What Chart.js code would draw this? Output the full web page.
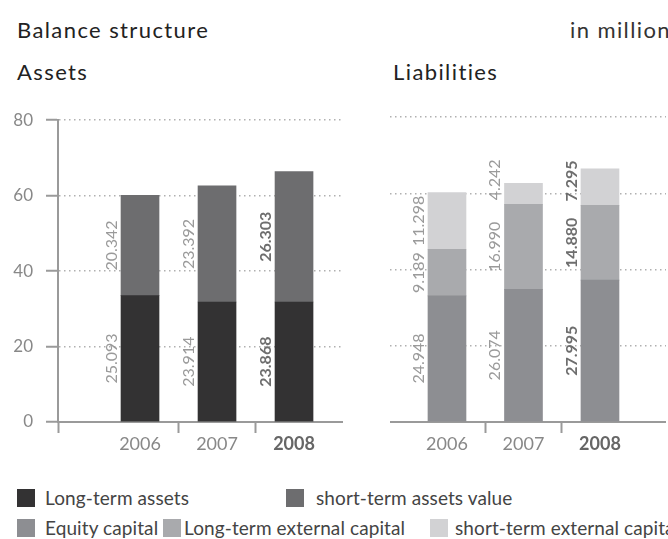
<!DOCTYPE html>
<html>
<head>
<meta charset="utf-8">
<script src="https://cdn.jsdelivr.net/npm/chart.js@4.4.1/dist/chart.umd.min.js"></script>
<style>
body { margin: 0; width: 668px; height: 539px; overflow: hidden; background: #fff; position: relative; font-family: Lato, sans-serif; }
.t { position: absolute; white-space: nowrap; line-height: 1; color: #222; }
.h { font-size: 22px; letter-spacing: 1.4px; }
.lg { font-size: 19px; color: #444; letter-spacing: 0.1px; }
.sq { position: absolute; width: 18px; height: 18px; }
canvas { position: absolute; }
</style>
</head>
<body>
<div class="t h" style="left:17px;top:19px">Balance structure</div>
<div class="t h" style="left:570px;top:19px;color:#333">in million</div>
<div class="t h" style="left:17px;top:61px">Assets</div>
<div class="t h" style="left:393px;top:61px">Liabilities</div>

<canvas id="assetsChart" width="343" height="363" style="left:0;top:97px"></canvas>
<canvas id="liabChart" width="276" height="363" style="left:390px;top:97px"></canvas>

<div id="legend"></div>

<script>
const years = ['2006', '2007', '2008'];
const yTicks = [0, 20, 40, 60, 80];

// bar heights as drawn
const longTermAssets = [33.5, 31.8, 31.8];
const shortTermAssets = [26.6, 30.8, 34.6];
const equityCapital = [33.1, 34.8, 37.2];
const longTermExternal = [12.2, 22.3, 19.6];
const shortTermExternal = [14.9, 5.5, 9.6];

// numbers printed next to the bars
const longTermAssetsText = ['25.093', '23.914', '23.868'];
const shortTermAssetsText = ['20.342', '23.392', '26.303'];
const equityText = ['24.948', '26.074', '27.995'];
const longTermExternalText = ['9.189', '16.990', '14.880'];
const shortTermExternalText = ['11.298', '4.242', '7.295'];

const colors = {
    longTermAssets: '#333233',
    shortTermAssets: '#6d6d6f',
    equity: '#8d8e92',
    longTermExt: '#a9aaad',
    shortTermExt: '#d2d2d4'
};

Chart.defaults.font.family = 'Lato, sans-serif';

const barText = {
    id: 'barText',
    afterDatasetsDraw(chart) {
        const ctx = chart.ctx;
        chart.data.datasets.forEach((ds, di) => {
            const meta = chart.getDatasetMeta(di);
            meta.data.forEach((bar, i) => {
                const txt = ds.valueText[i];
                const bold = i === years.length - 1;
                ctx.save();
                ctx.font = (bold ? 'bold ' : '') + '16px Lato';
                const w = ctx.measureText(txt).width;
                const top = Math.min(bar.y, bar.base);
                const bottom = Math.max(bar.y, bar.base);
                let cy = (top + bottom) / 2;
                // short segments: let the number run up past the bar top
                if (w + 4 > bottom - top) cy = bottom - 4 - w / 2;
                ctx.translate(bar.x - bar.width / 2 - 4, cy);
                ctx.rotate(-Math.PI / 2);
                ctx.textAlign = 'center';
                ctx.textBaseline = 'alphabetic';
                ctx.fillStyle = bold ? '#6e6e6e' : '#9a9a9a';
                ctx.fillText(txt, 0, 0);
                ctx.restore();
            });
        });
    }
};

function toPoints(vals) {
    return vals.map((v, i) => ({ x: i + 1, y: v }));
}

function makeChart(id, datasets, xMin, xMax, showY) {
    const xTickVals = [1, 1.5, 2, 2.5, 3];
    if (showY) xTickVals.unshift(xMin);
    return new Chart(document.getElementById(id), {
        type: 'bar',
        data: { datasets: datasets },
        options: {
            responsive: false,
            animation: false,
            layout: { padding: { top: 20, left: 0, right: 0, bottom: 0 } },
            plugins: { legend: { display: false }, tooltip: { enabled: false } },
            datasets: { bar: { barThickness: 38 } },
            scales: {
                x: {
                    type: 'linear',
                    min: xMin,
                    max: xMax,
                    offset: false,
                    stacked: true,
                    afterBuildTicks: s => { s.ticks = xTickVals.map(v => ({ value: v })); },
                    afterFit: s => { s.height = 38; },
                    ticks: {
                        autoSkip: false,
                        maxRotation: 0,
                        padding: 0,
                        color: c => (c.tick && c.tick.value === 3) ? '#666' : '#888',
                        font: c => ({ size: 18, weight: (c.tick && c.tick.value === 3) ? 'bold' : 'normal' }),
                        callback: v => (Number.isInteger(v) && v >= 1) ? years[v - 1] : ''
                    },
                    grid: {
                        offset: false,
                        drawOnChartArea: false,
                        drawTicks: true,
                        tickLength: 11,
                        color: 'transparent',
                        tickWidth: 2,
                        tickColor: c => (c.tick && c.tick.value % 1 !== 0) ? '#9a9a9a' : 'transparent'
                    },
                    border: { display: true, color: '#9a9a9a', width: 2 }
                },
                y: {
                    min: 0,
                    max: 80,
                    stacked: true,
                    afterBuildTicks: s => { s.ticks = yTicks.map(v => ({ value: v })); },
                    afterFit: s => { s.width = showY ? 58 : 0; },
                    ticks: { display: showY, color: '#888', font: { size: 17 }, padding: 13 },
                    grid: {
                        color: '#b0b0b0',
                        lineWidth: 1.5,
                        drawTicks: showY,
                        tickLength: 12,
                        tickColor: '#9a9a9a',
                        tickWidth: 2,
                        tickBorderDash: []
                    },
                    border: { display: showY, color: '#9a9a9a', width: 2, dash: [1.5, 3.5] }
                }
            }
        },
        plugins: [barText]
    });
}

makeChart('assetsChart', [
    { label: 'Long-term assets', data: toPoints(longTermAssets), valueText: longTermAssetsText, backgroundColor: colors.longTermAssets },
    { label: 'short-term assets value', data: toPoints(shortTermAssets), valueText: shortTermAssetsText, backgroundColor: colors.shortTermAssets }
], -0.065, 3.636, true);

makeChart('liabChart', [
    { label: 'Equity capital', data: toPoints(equityCapital), valueText: equityText, backgroundColor: colors.equity },
    { label: 'Long-term external capital', data: toPoints(longTermExternal), valueText: longTermExternalText, backgroundColor: colors.longTermExt },
    { label: 'short-term external capital', data: toPoints(shortTermExternal), valueText: shortTermExternalText, backgroundColor: colors.shortTermExt }
], 0.255, 3.863, false);

// legend
const legendItems = [
    { text: 'Long-term assets', color: colors.longTermAssets, sq: 17, tx: 45, row: 0 },
    { text: 'short-term assets value', color: colors.shortTermAssets, sq: 286, tx: 316, row: 0 },
    { text: 'Equity capital', color: colors.equity, sq: 17, tx: 45, row: 1 },
    { text: 'Long-term external capital', color: colors.longTermExt, sq: 163, tx: 184, row: 1 },
    { text: 'short-term external capital', color: colors.shortTermExt, sq: 430, tx: 455, row: 1 }
];
const legend = document.getElementById('legend');
legendItems.forEach(it => {
    const top = it.row ? 519 : 489;
    const sq = document.createElement('div');
    sq.className = 'sq';
    sq.style.left = it.sq + 'px';
    sq.style.top = top + 'px';
    sq.style.background = it.color;
    legend.appendChild(sq);
    const t = document.createElement('div');
    t.className = 't lg';
    t.style.left = it.tx + 'px';
    t.style.top = (top - 1) + 'px';
    t.textContent = it.text;
    legend.appendChild(t);
});
</script>
</body>
</html>
